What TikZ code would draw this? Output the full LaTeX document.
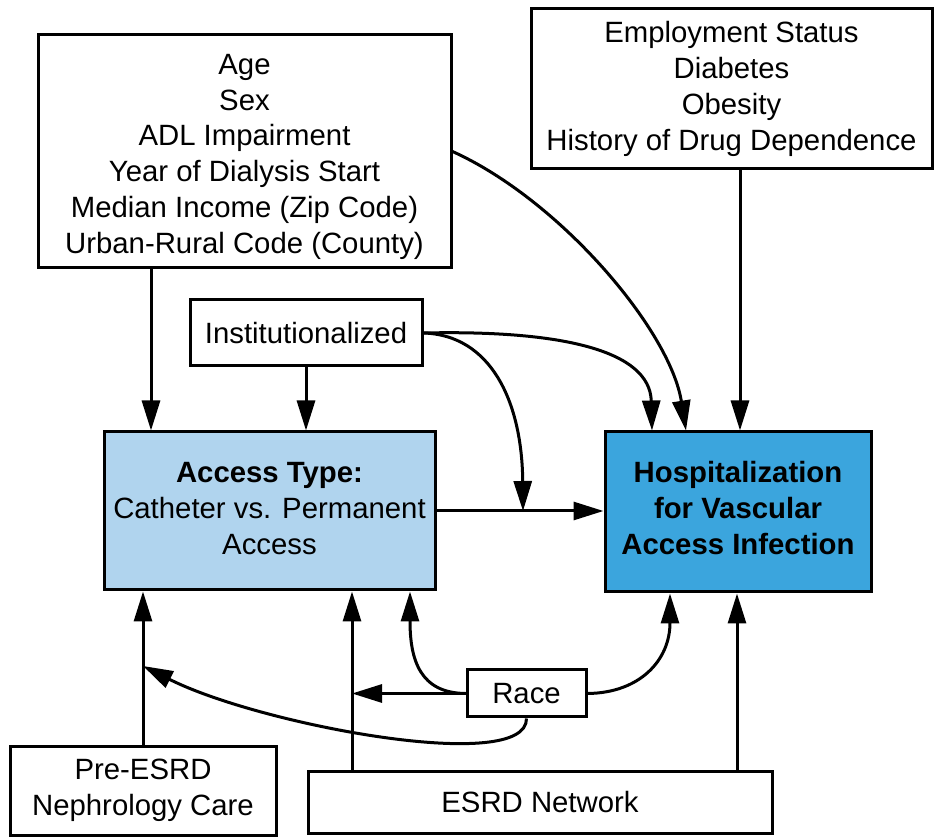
\documentclass[tikz,border=0pt]{standalone}
\usepackage{fontspec}
\setmainfont{Liberation Sans}
\usetikzlibrary{arrows.meta}
\definecolor{accessfill}{RGB}{176,212,238}
\definecolor{outcomefill}{RGB}{59,165,221}

\begin{document}
\begin{tikzpicture}[x=0.75pt,y=-0.75pt,
  box/.style={draw, line width=2.25pt, align=center, inner sep=0pt,
    font=\fontsize{22}{26.8}\selectfont},
  link/.style={line width=2.25pt, -{Triangle[length=22.5pt,width=13.5pt]}}]
\useasboundingbox (0,0) rectangle (936,837);

% covariate boxes
\node[box, minimum width=413*0.75pt, minimum height=233*0.75pt] (demo) at (244.5,151.5)
  {\rule{0pt}{23pt}Age\\Sex\\ADL Impairment\\Year of Dialysis Start\\Median Income (Zip Code)\\Urban-Rural Code (County)};
\node[box, minimum width=401*0.75pt, minimum height=160*0.75pt] (emp) at (731.5,89)
  {Employment Status\\Diabetes\\Obesity\\History of Drug Dependence};
\node[box, minimum width=232*0.75pt, minimum height=66*0.75pt] (inst) at (306,333)
  {Institutionalized};

% exposure and outcome
\node[box, fill=accessfill, minimum width=331*0.75pt, minimum height=158*0.75pt] (acc) at (269.5,511)
  {\textbf{Access Type:}\\Catheter vs. Permanent\\Access\rule[-4pt]{0pt}{0pt}};
\node[box, fill=outcomefill, minimum width=266*0.75pt, minimum height=160*0.75pt] (hosp) at (738,512)
  {\textbf{Hospitalization}\\\textbf{for Vascular}\\\textbf{Access Infection}\rule[-6pt]{0pt}{0pt}};

% lower boxes
\node[box, minimum width=119*0.75pt, minimum height=47*0.75pt] (race) at (526.5,693.5) {Race};
\node[box, minimum width=266*0.75pt, minimum height=89*0.75pt] (pre) at (143,790.5)
  {Pre-ESRD\\Nephrology Care};
\node[box, minimum width=464*0.75pt, minimum height=62*0.75pt] (net) at (540,802) {ESRD Network};

% junction points on other connectors
\coordinate (j) at (acc.east -| 523,0);
\coordinate (preline) at (pre.north |- 0,666);

% connectors
\draw[link] (demo.south -| 151,0) -- (acc.north -| 151,0);
\draw[link] (inst.south) -- (acc.north -| inst.south);
\draw[link] (emp.south -| 740,0) -- (hosp.north -| 740,0);
\draw[link] (demo.east) .. controls (560,200) and (670,330) .. (hosp.north -| 686,0);
\draw[link] (inst.east) .. controls (560,330) and (650,350) .. (hosp.north -| 652,0);
\draw[link] (inst.east) .. controls (490,335) and (522,400) .. (j);
\draw[link] (acc.east) -- (hosp.west |- acc.east);
\draw[link] (pre.north) -- (acc.south -| pre.north);
\draw[link] (net.north -| 352,0) -- (acc.south -| 352,0);
\draw[link] (net.north -| 737,0) -- (hosp.south -| 737,0);
\draw[link] (race.west) -- (race.west -| 352,0);
\draw[link] (race.west) .. controls (420,693) and (410,660) .. (acc.south -| 410,0);
\draw[link] (race.east) .. controls (640,693) and (670,660) .. (hosp.south -| 670,0);
\draw[link] (race.south) .. controls (527,775) and (260,725) .. (preline);
\end{tikzpicture}
\end{document}
